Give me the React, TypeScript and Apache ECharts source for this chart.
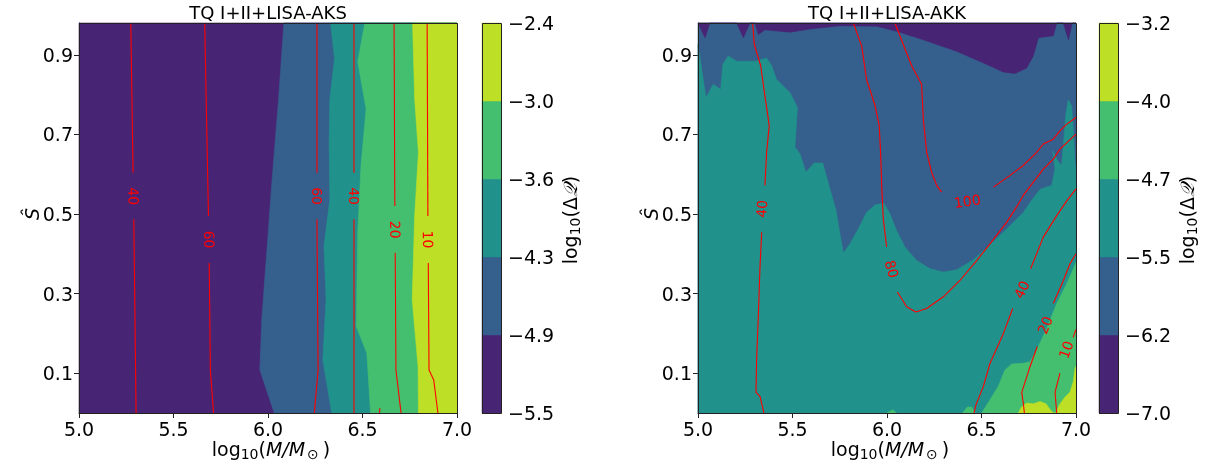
import React, { useEffect, useRef } from 'react';
import * as echarts from 'echarts';

const FONT = 'DejaVu Sans';
const X_MIN = 5.0;
const X_MAX = 7.0;
const Y_MIN = 0;
const Y_MAX = 0.98;
const yTickValues = [0.1, 0.3, 0.5, 0.7, 0.9];
const levelColors = ['#482475', '#355f8d', '#21918c', '#44bf70', '#bddf26'];
const aksLevels = ['−5.5', '−4.9', '−4.3', '−3.6', '−3.0', '−2.4'];
const akkLevels = ['−7.0', '−6.2', '−5.5', '−4.7', '−4.0', '−3.2'];
const titles = ['TQ I+II+LISA-AKS', 'TQ I+II+LISA-AKK'];

// ---- AKS (left) filled-contour boundaries (region to the right is the next level)
const aksPurpleBlue = [[6.084, 0.98], [6.056, 0.789], [6.019, 0.57], [5.988, 0.369], [5.967, 0.234], [5.957, 0.108], [6.033, 0]];
const aksBlueTeal = [[6.331, 0.98], [6.352, 0.89], [6.327, 0.789], [6.323, 0.68], [6.327, 0.537], [6.296, 0.419], [6.307, 0.285], [6.29, 0.134], [6.337, 0]];
const aksTealGreen = [[6.512, 0.98], [6.475, 0.882], [6.519, 0.764], [6.492, 0.621], [6.475, 0.453], [6.467, 0.218], [6.523, 0.15], [6.543, 0]];
const aksGreenYellow = [[6.765, 0.98], [6.776, 0.789], [6.796, 0.655], [6.776, 0.495], [6.763, 0.285], [6.794, 0.117], [6.796, 0]];

// ---- AKS contour lines (SNR)
const aksLines = [
  [[5.274, 0.98], [5.286, 0.604]], [[5.29, 0.487], [5.302, 0]],
  [[5.665, 0.98], [5.685, 0.495]], [[5.689, 0.377], [5.695, 0.108], [5.712, 0]],
  [[6.259, 0.98], [6.259, 0.604]], [[6.259, 0.487], [6.265, 0.108], [6.245, 0]],
  [[6.455, 0.98], [6.455, 0.604]], [[6.455, 0.487], [6.455, 0]],
  [[6.667, 0.98], [6.671, 0.52]], [[6.673, 0.4025], [6.677, 0.108], [6.704, 0]],
  [[6.842, 0.98], [6.846, 0.495]], [[6.848, 0.377], [6.852, 0.108], [6.877, 0.083], [6.899, 0]],
  [[6.59, 0], [6.592, 0.012]],
];
const aksLabelPos = [[5.288, 0.545], [5.689, 0.436], [6.259, 0.545], [6.455, 0.545], [6.673, 0.461], [6.846, 0.436]];
const aksLabelText = ['40', '60', '60', '40', '20', '10'];
const aksLabelRot = [-89, -89, -90, -90, -89, -89];

// ---- AKK (right) filled-contour boundaries
const akkTealTop = [[5.0, 0.926], [5.042, 0.7925], [5.081, 0.826], [5.12, 0.813], [5.131, 0.876], [5.16, 0.897], [5.205, 0.884], [5.302, 0.884], [5.363, 0.892], [5.39, 0.872], [5.416, 0.838], [5.487, 0.805], [5.526, 0.7675], [5.513, 0.6675], [5.54, 0.651], [5.571, 0.605], [5.614, 0.628], [5.66, 0.628], [5.698, 0.563], [5.73, 0.51], [5.751, 0.45], [5.769, 0.402], [5.804, 0.425], [5.848, 0.4625], [5.892, 0.504], [5.937, 0.523], [5.984, 0.527], [6.016, 0.5], [6.051, 0.458], [6.095, 0.417], [6.157, 0.383], [6.228, 0.3625], [6.298, 0.354], [6.369, 0.36], [6.457, 0.385], [6.545, 0.423], [6.633, 0.4625], [6.721, 0.504], [6.757, 0.529], [6.81, 0.562], [6.871, 0.572], [6.889, 0.613], [6.877, 0.659], [6.903, 0.634], [6.924, 0.622], [6.933, 0.672], [6.945, 0.747], [6.959, 0.787], [6.977, 0.772], [6.986, 0.713], [6.995, 0.63], [7.0, 0.613]];
const akkGreenTop = [[6.501, 0], [6.545, 0.033], [6.589, 0.067], [6.624, 0.108], [6.66, 0.123], [6.721, 0.125], [6.757, 0.129], [6.801, 0.167], [6.845, 0.2125], [6.898, 0.275], [6.951, 0.325], [6.986, 0.3625], [7.0, 0.379]];
const akkGreenBump1 = [[6.4, 0], [6.425, 0.015], [6.448, 0.015], [6.466, 0]];
const akkGreenBump2 = [[6.0, 0], [6.03, 0.008], [6.05, 0]];
const akkYellowTop = [[6.695, 0], [6.712, 0.015], [6.739, 0.025], [6.774, 0.023], [6.81, 0.029], [6.841, 0.023], [6.866, 0.007], [6.88, 0], [6.894, 0], [6.912, 0.021], [6.942, 0.04], [6.968, 0.052], [6.986, 0.079], [6.995, 0.1125], [7.0, 0.117]];
const akkPurpleBottom = [[5.0, 0.98], [5.037, 0.943], [5.063, 0.98], [5.205, 0.98], [5.24, 0.943], [5.275, 0.98], [5.302, 0.98], [5.319, 0.951], [5.354, 0.963], [5.487, 0.957], [5.593, 0.965], [5.751, 0.973], [5.945, 0.972], [6.051, 0.959], [6.192, 0.938], [6.368, 0.909], [6.509, 0.88], [6.615, 0.857], [6.677, 0.853], [6.739, 0.867], [6.774, 0.897], [6.801, 0.943], [6.88, 0.948], [6.898, 0.98], [6.933, 0.98], [6.96, 0.938], [6.98, 0.98], [7.0, 0.98]];

// ---- AKK contour lines
const akkLines = [
  [[5.289, 0.98], [5.298, 0.926], [5.332, 0.872], [5.354, 0.797], [5.377, 0.722], [5.363, 0.655], [5.354, 0.572]],
  [[5.337, 0.454], [5.328, 0.367], [5.319, 0.242], [5.31, 0.133], [5.307, 0.052], [5.328, 0.042], [5.349, 0]],
  [[5.822, 0.98], [5.866, 0.922], [5.892, 0.838], [5.937, 0.772], [5.959, 0.722], [5.966, 0.655], [5.972, 0.572], [5.98, 0.49], [5.998, 0.417]],
  [[6.055, 0.304], [6.104, 0.267], [6.153, 0.254], [6.21, 0.2625], [6.298, 0.292], [6.386, 0.333], [6.474, 0.383], [6.545, 0.425], [6.633, 0.479], [6.695, 0.525], [6.721, 0.547], [6.827, 0.613], [6.88, 0.638], [6.915, 0.663], [7.0, 0.701]],
  [[6.042, 0.98], [6.086, 0.926], [6.131, 0.872], [6.183, 0.826], [6.192, 0.738], [6.21, 0.655], [6.236, 0.605], [6.263, 0.572], [6.289, 0.555]],
  [[6.563, 0.5675], [6.651, 0.597], [6.721, 0.622], [6.792, 0.655], [6.827, 0.676], [6.88, 0.688], [6.915, 0.709], [6.951, 0.726], [7.0, 0.7425]],
  [[7.0, 0.563], [6.951, 0.533], [6.898, 0.496], [6.827, 0.442], [6.76, 0.3625]],
  [[6.665, 0.2625], [6.616, 0.2], [6.545, 0.125], [6.51, 0.067], [6.471, 0.021], [6.46, 0]],
  [[7.0, 0.4], [6.968, 0.375], [6.933, 0.333], [6.88, 0.275]],
  [[6.795, 0.167], [6.757, 0.117], [6.713, 0.052], [6.721, 0.025], [6.727, 0]],
  [[7.0, 0.21], [6.985, 0.19]],
  [[6.915, 0.1], [6.889, 0.052], [6.898, 0]],
];
const akkLabelPos = [[5.337, 0.513], [6.025, 0.362], [6.425, 0.532], [6.713, 0.31], [6.836, 0.221], [6.948, 0.159]];
const akkLabelText = ['40', '80', '100', '40', '20', '10'];
const akkLabelRot = [86, -75, 8, 65, 68, 70];

const PLOT_L = [79, 698];
const PLOT_W = 378;
const TOP = 23;
const H = 390;
const CB_L = [482, 1099];
const CB_W = 19;

function rightOf(b: number[][]) {
  return [...b, [X_MAX, Y_MIN], [X_MAX, Y_MAX]];
}

const aksPolys = [
  [[X_MIN, Y_MAX], [X_MIN, Y_MIN], [X_MAX, Y_MIN], [X_MAX, Y_MAX]],
  rightOf(aksPurpleBlue),
  rightOf(aksBlueTeal),
  rightOf(aksTealGreen),
  rightOf(aksGreenYellow),
];
const aksPolyColors = [0, 1, 2, 3, 4];

const akkPolys = [
  [[X_MIN, Y_MAX], [X_MIN, Y_MIN], [X_MAX, Y_MIN], [X_MAX, Y_MAX]],
  [...akkTealTop, [X_MAX, Y_MIN], [X_MIN, Y_MIN]],
  akkGreenBump1,
  akkGreenBump2,
  [...akkGreenTop, [X_MAX, Y_MIN]],
  [...akkYellowTop, [X_MAX, Y_MIN]],
  [...akkPurpleBottom, [X_MAX, Y_MAX], [X_MIN, Y_MAX]],
];
const akkPolyColors = [1, 2, 3, 3, 3, 4, 0];

function fillSeries(polys: number[][][], colors: number[], idx: number) {
  return {
    type: 'custom',
    xAxisIndex: idx,
    yAxisIndex: idx,
    silent: true,
    z: 1,
    data: polys.map((p) => p[0]),
    renderItem: (params: any, api: any) => {
      const poly = polys[params.dataIndex];
      const c = levelColors[colors[params.dataIndex]];
      return {
        type: 'polygon',
        shape: { points: poly.map((pt) => api.coord(pt)) },
        style: { fill: c, stroke: c, lineWidth: 0.6 },
      };
    },
  };
}

function lineSeries(lines: number[][][], idx: number) {
  return lines.map((seg) => ({
    type: 'line',
    xAxisIndex: idx,
    yAxisIndex: idx,
    data: seg,
    showSymbol: false,
    symbol: 'none',
    silent: true,
    z: 5,
    lineStyle: { color: '#ff0000', width: 1.1 },
  }));
}

function labelSeries(pos: number[][], text: string[], rot: number[], idx: number) {
  return {
    type: 'custom',
    xAxisIndex: idx,
    yAxisIndex: idx,
    silent: true,
    z: 6,
    data: pos,
    renderItem: (params: any, api: any) => {
      const p = api.coord([api.value(0), api.value(1)]);
      return {
        type: 'text',
        x: p[0],
        y: p[1],
        rotation: (rot[params.dataIndex] * Math.PI) / 180,
        style: {
          text: text[params.dataIndex],
          fill: '#ff0000',
          fontSize: 14,
          fontFamily: FONT,
          align: 'center',
          verticalAlign: 'middle',
        },
      };
    },
  };
}

function colorbarSeries(idx: number) {
  return {
    type: 'custom',
    xAxisIndex: idx,
    yAxisIndex: idx,
    silent: true,
    data: levelColors.map((_, i) => [0, i]),
    renderItem: (params: any, api: any) => {
      const i = params.dataIndex;
      const p0 = api.coord([0, i]);
      const p1 = api.coord([1, i + 1]);
      return {
        type: 'rect',
        shape: { x: p0[0], y: p1[1], width: p1[0] - p0[0], height: p0[1] - p1[1] },
        style: { fill: levelColors[i], stroke: levelColors[i], lineWidth: 0.5 },
      };
    },
  };
}

const tickStyle = { color: '#000', fontSize: 19, fontFamily: FONT };

function plotXAxis(gi: number) {
  return {
    gridIndex: gi,
    type: 'value',
    min: X_MIN,
    max: X_MAX,
    interval: 0.5,
    axisLine: { show: true, lineStyle: { color: '#222' } },
    axisTick: { show: true, length: 5, lineStyle: { color: '#222' } },
    axisLabel: { ...tickStyle, margin: 6, formatter: (v: number) => v.toFixed(1) },
    splitLine: { show: false },
  };
}
function plotYAxis(gi: number) {
  return {
    gridIndex: gi,
    type: 'value',
    min: Y_MIN,
    max: Y_MAX,
    axisLine: { show: true, lineStyle: { color: '#222' } },
    axisTick: { show: true, length: 5, lineStyle: { color: '#222' }, customValues: yTickValues },
    axisLabel: { ...tickStyle, margin: 6, customValues: yTickValues, formatter: (v: number) => v.toFixed(1) },
    splitLine: { show: false },
  };
}
function cbXAxis(gi: number) {
  return { gridIndex: gi, type: 'value', min: 0, max: 1, show: false };
}
function cbYAxis(gi: number, labels: string[]) {
  return {
    gridIndex: gi,
    type: 'value',
    min: 0,
    max: 5,
    interval: 1,
    position: 'right',
    axisLine: { show: false },
    axisTick: { show: true, length: 5, lineStyle: { color: '#222' } },
    axisLabel: { ...tickStyle, margin: 7, formatter: (v: number) => labels[Math.round(v)] },
    splitLine: { show: false },
  };
}

function textEl(x: number, y: number, rich: any, text: string, rotation = 0, size = 19) {
  return {
    type: 'text',
    x,
    y,
    rotation,
    z: 50,
    style: {
      text,
      rich,
      fontSize: size,
      fontFamily: FONT,
      fill: '#000',
      align: 'center',
      verticalAlign: 'middle',
    },
  };
}

const richLabel = {
  n: { fontSize: 19, fontFamily: FONT, fill: '#000' },
  i: { fontSize: 19, fontFamily: FONT, fontStyle: 'italic', fill: '#000' },
  s: { fontSize: 14, fontFamily: FONT, fill: '#000', padding: [9, 0, 0, 0] },
  o: { fontSize: 14, fontFamily: FONT, fill: '#000', padding: [9, 4, 0, 2] },
};

export default function App() {
  const ref = useRef<HTMLDivElement>(null);
  useEffect(() => {
    if (!ref.current) return;
    const chart = echarts.init(ref.current, null, { renderer: 'svg' });
    const graphic: any[] = [];
    [0, 1].forEach((k) => {
      const cx = PLOT_L[k] + PLOT_W / 2;
      graphic.push(textEl(cx, 12, {}, titles[k], 0, 18));
      graphic.push(textEl(cx + 3, 449, richLabel, '{n|log}{s|10}{n|(}{i|M/M}{o|⊙}{n|)}'));
      graphic.push(textEl(PLOT_L[k] - 47, TOP + H / 2 - 4, richLabel, '{i|Ŝ}', Math.PI / 2));
      graphic.push(textEl(CB_L[k] + 88, TOP + H / 2 + 2, richLabel, '{n|log}{s|10}{n|(Δ}{i|𝒬}{n|)}', Math.PI / 2));
      graphic.push({
        type: 'rect',
        z: 40,
        shape: { x: PLOT_L[k] + 0.5, y: TOP + 0.5, width: PLOT_W, height: H },
        style: { fill: 'none', stroke: '#222', lineWidth: 1 },
      });
      graphic.push({
        type: 'rect',
        z: 40,
        shape: { x: CB_L[k] + 0.5, y: TOP + 0.5, width: CB_W, height: H },
        style: { fill: 'none', stroke: '#222', lineWidth: 1 },
      });
    });

    chart.setOption({
      animation: false,
      textStyle: { fontFamily: FONT },
      grid: [
        { left: PLOT_L[0], top: TOP, width: PLOT_W, height: H },
        { left: PLOT_L[1], top: TOP, width: PLOT_W, height: H },
        { left: CB_L[0], top: TOP, width: CB_W, height: H },
        { left: CB_L[1], top: TOP, width: CB_W, height: H },
      ],
      xAxis: [plotXAxis(0), plotXAxis(1), cbXAxis(2), cbXAxis(3)],
      yAxis: [plotYAxis(0), plotYAxis(1), cbYAxis(2, aksLevels), cbYAxis(3, akkLevels)],
      series: [
        fillSeries(aksPolys, aksPolyColors, 0),
        ...lineSeries(aksLines, 0),
        labelSeries(aksLabelPos, aksLabelText, aksLabelRot, 0),
        fillSeries(akkPolys, akkPolyColors, 1),
        ...lineSeries(akkLines, 1),
        labelSeries(akkLabelPos, akkLabelText, akkLabelRot, 1),
        colorbarSeries(2),
        colorbarSeries(3),
      ],
      graphic,
    });
    return () => chart.dispose();
  }, []);
  return <div ref={ref} style={{ position: 'fixed', left: 0, top: 0, width: 1211, height: 475 }} />;
}
